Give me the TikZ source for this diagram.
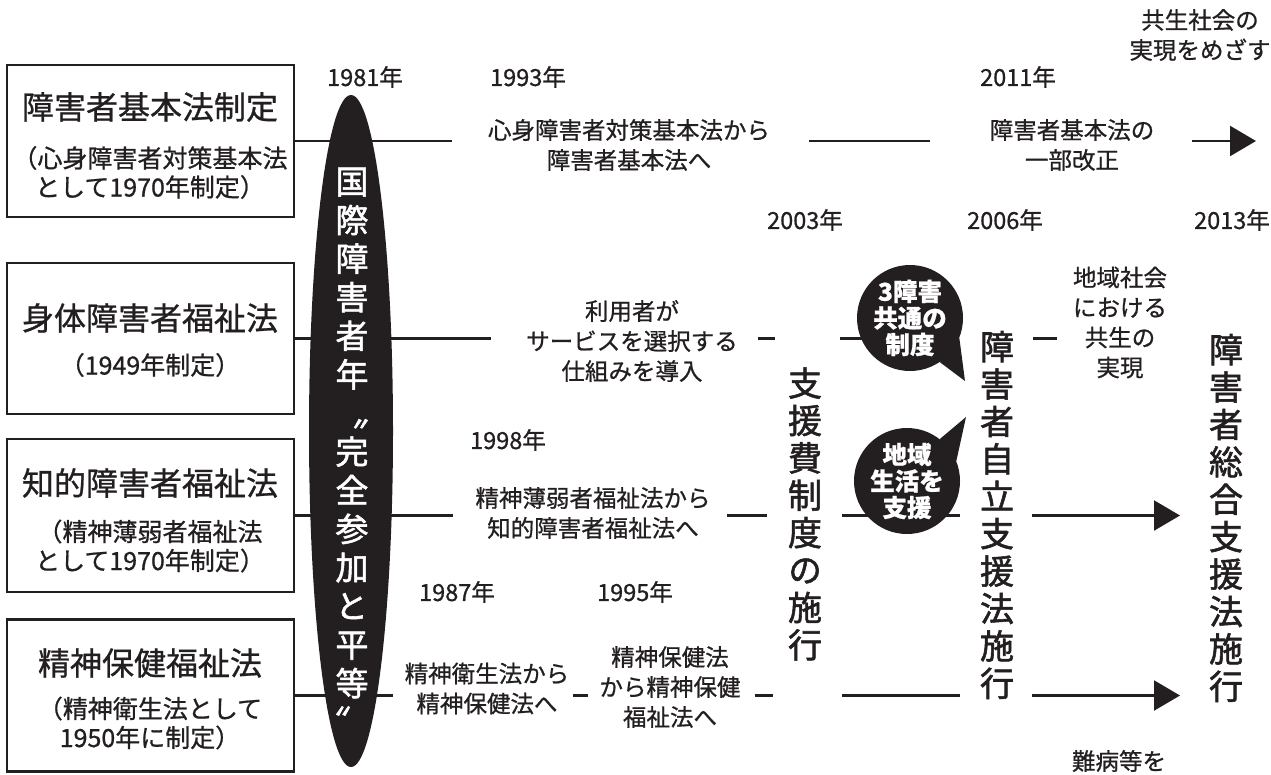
\documentclass[tikz,border=0pt]{standalone}
\usepackage{fontspec}
\setmainfont{Noto Sans CJK JP}[FakeBold=0.8]
\newfontfamily\vertfont{Noto Sans CJK JP}[RawFeature=+vert,FakeBold=1.6]
\usetikzlibrary{arrows.meta,shapes.geometric}
\definecolor{ink}{HTML}{231F20}
\begin{document}
\begin{tikzpicture}[x=1pt,y=-1pt,
  box/.style={draw=ink, line width=2.2pt, minimum width=287pt, inner sep=0pt},
  conn/.style={draw=ink, line width=2.2pt},
  arr/.style={conn, -{Triangle[length=26pt,width=30pt]}},
  lbl/.style={text=ink, font=\fontsize{23.5}{30}\selectfont, align=center, inner sep=0pt},
  yr/.style={text=ink, font=\fontsize{23.5}{27}\selectfont, inner sep=0pt},
  ttl/.style={text=ink, font=\fontsize{32}{36}\selectfont, inner sep=0pt},
  subt/.style={text=ink, font=\fontsize{25}{29}\selectfont, align=center, inner sep=0pt},
  vcol/.style={text=ink, font=\vertfont\fontsize{34}{37.4}\selectfont, align=center, inner sep=0pt},
  bubble/.style={circle, fill=ink, minimum size=106pt, inner sep=0pt, text=white,
    font=\bfseries\fontsize{24.5}{26.5}\selectfont, align=center}]
\useasboundingbox (0,0) rectangle (1271,774);

% boxes
\node[box, minimum height=152pt] (box1) at (150.5,141) {};
\node[box, minimum height=151pt] (box2) at (150.5,338.5) {};
\node[box, minimum height=153pt] (box3) at (150.5,515.5) {};
\node[box, minimum height=152pt] (box4) at (150.5,695.5) {};

\node[ttl] (t1) at (150,107) {障害者基本法制定};
\node[subt] (s1) at (150,172.5) {（心身障害者対策基本法\\として1970年制定）};
\node[ttl] (t2) at (150,318) {身体障害者福祉法};
\node[subt] (s2) at (150,365) {（1949年制定）};
\node[ttl] (t3) at (150,483) {知的障害者福祉法};
\node[subt] (s3) at (150,546) {（精神薄弱者福祉法\\として1970年制定）};
\node[ttl] (t4) at (150,663) {精神保健福祉法};
\node[subt] (s4) at (150,723) {（精神衛生法として\\1950年に制定）};

% coordinates for line ends
\coordinate (r1a) at (452,141);
\coordinate (r1b) at (809,141);
\coordinate (r1c) at (930,141);
\coordinate (r1d) at (1192,141);
\coordinate (r1e) at (1256,141);
\coordinate (r2a) at (491,338.5);
\coordinate (r2b) at (758,338.5);
\coordinate (r2c) at (775,338.5);
\coordinate (r2d) at (840,338.5);
\coordinate (r2e) at (872,338.5);
\coordinate (r2f) at (1033,338.5);
\coordinate (r2g) at (1057,338.5);
\coordinate (r3a) at (453,515.5);
\coordinate (r3b) at (727,515.5);
\coordinate (r3c) at (767,515.5);
\coordinate (r3d) at (842,515.5);
\coordinate (r3e) at (960,515.5);
\coordinate (r3f) at (1032,515.5);
\coordinate (r3g) at (1180,515.5);
\coordinate (r4a) at (393,695.5);
\coordinate (r4b) at (573,695.5);
\coordinate (r4c) at (588,695.5);
\coordinate (r4d) at (755,695.5);
\coordinate (r4e) at (773,695.5);
\coordinate (r4f) at (842,695.5);
\coordinate (r4g) at (960,695.5);
\coordinate (r4h) at (1032,695.5);
\coordinate (r4i) at (1180,695.5);

% connectors
\draw[conn] (box1.east) -- (r1a);
\draw[conn] (r1b) -- (r1c);
\draw[arr] (r1d) -- (r1e);
\draw[conn] (box2.east) -- (r2a);
\draw[conn] (r2b) -- (r2c);
\draw[conn] (r2d) -- (r2e);
\draw[conn] (r2f) -- (r2g);
\draw[conn] (box3.east) -- (r3a);
\draw[conn] (r3b) -- (r3c);
\draw[conn] (r3d) -- (r3e);
\draw[arr] (r3f) -- (r3g);
\draw[conn] (box4.east) -- (r4a);
\draw[conn] (r4b) -- (r4c);
\draw[conn] (r4d) -- (r4e);
\draw[conn] (r4f) -- (r4g);
\draw[arr] (r4h) -- (r4i);

% ellipse
\node[ellipse, fill=ink, minimum width=84pt, minimum height=672pt, inner sep=0pt] (iyd) at (351,431) {};
\node[text=white, font=\vertfont\fontsize{33}{38.6}\selectfont, align=center, inner sep=0pt] (iydt) at (352,451)
  {国\\際\\障\\害\\者\\年\\〝\\完\\全\\参\\加\\と\\平\\等\\〟};

% bubbles
\node[bubble] (b1) at (910,318) {3障害\\共通の\\制度};
\coordinate (tip1) at (965,381);
\fill[ink] (b1.-22) -- (tip1) -- (b1.-56) -- cycle;
\node[bubble] (b2) at (907,481) {地域\\生活を\\支援};
\coordinate (tip2) at (966,417);
\fill[ink] (b2.22) -- (tip2) -- (b2.52) -- cycle;

% years
\node[yr] (y1981) at (365,77) {1981年};
\node[yr] (y1993) at (528,77) {1993年};
\node[yr] (y2011) at (1018,77) {2011年};
\node[yr] (y2003) at (805,220) {2003年};
\node[yr] (y2006) at (1005,220) {2006年};
\node[yr] (y2013) at (1232,220) {2013年};
\node[yr] (y1998) at (508,440) {1998年};
\node[yr] (y1987) at (457,592) {1987年};
\node[yr] (y1995) at (635,592) {1995年};

% labels
\node[lbl] (goal) at (1200,35) {共生社会の\\実現をめざす};
\node[lbl] (l1a) at (629,145) {心身障害者対策基本法から\\障害者基本法へ};
\node[lbl] (l1b) at (1072,145) {障害者基本法の\\一部改正};
\node[lbl] (l2a) at (632,341) {利用者が\\サービスを選択する\\仕組みを導入};
\node[lbl] (l2b) at (1120,322.5) {地域社会\\における\\共生の\\実現};
\node[lbl] (l3a) at (593,513) {精神薄弱者福祉法から\\知的障害者福祉法へ};
\node[lbl] (l4a) at (487,688.5) {精神衛生法から\\精神保健法へ};
\node[lbl] (l4b) at (670,687) {精神保健法\\から精神保健\\福祉法へ};
\node[lbl] (nanbyo) at (1119,761) {難病等を};

% vertical columns
\node[vcol] (shienhi) at (805,514) {支\\援\\費\\制\\度\\の\\施\\行};
\node[vcol] (jiritsu) at (997,515) {障\\害\\者\\自\\立\\支\\援\\法\\施\\行};
\node[vcol] (sougou) at (1226,518) {障\\害\\者\\総\\合\\支\\援\\法\\施\\行};
\end{tikzpicture}
\end{document}
